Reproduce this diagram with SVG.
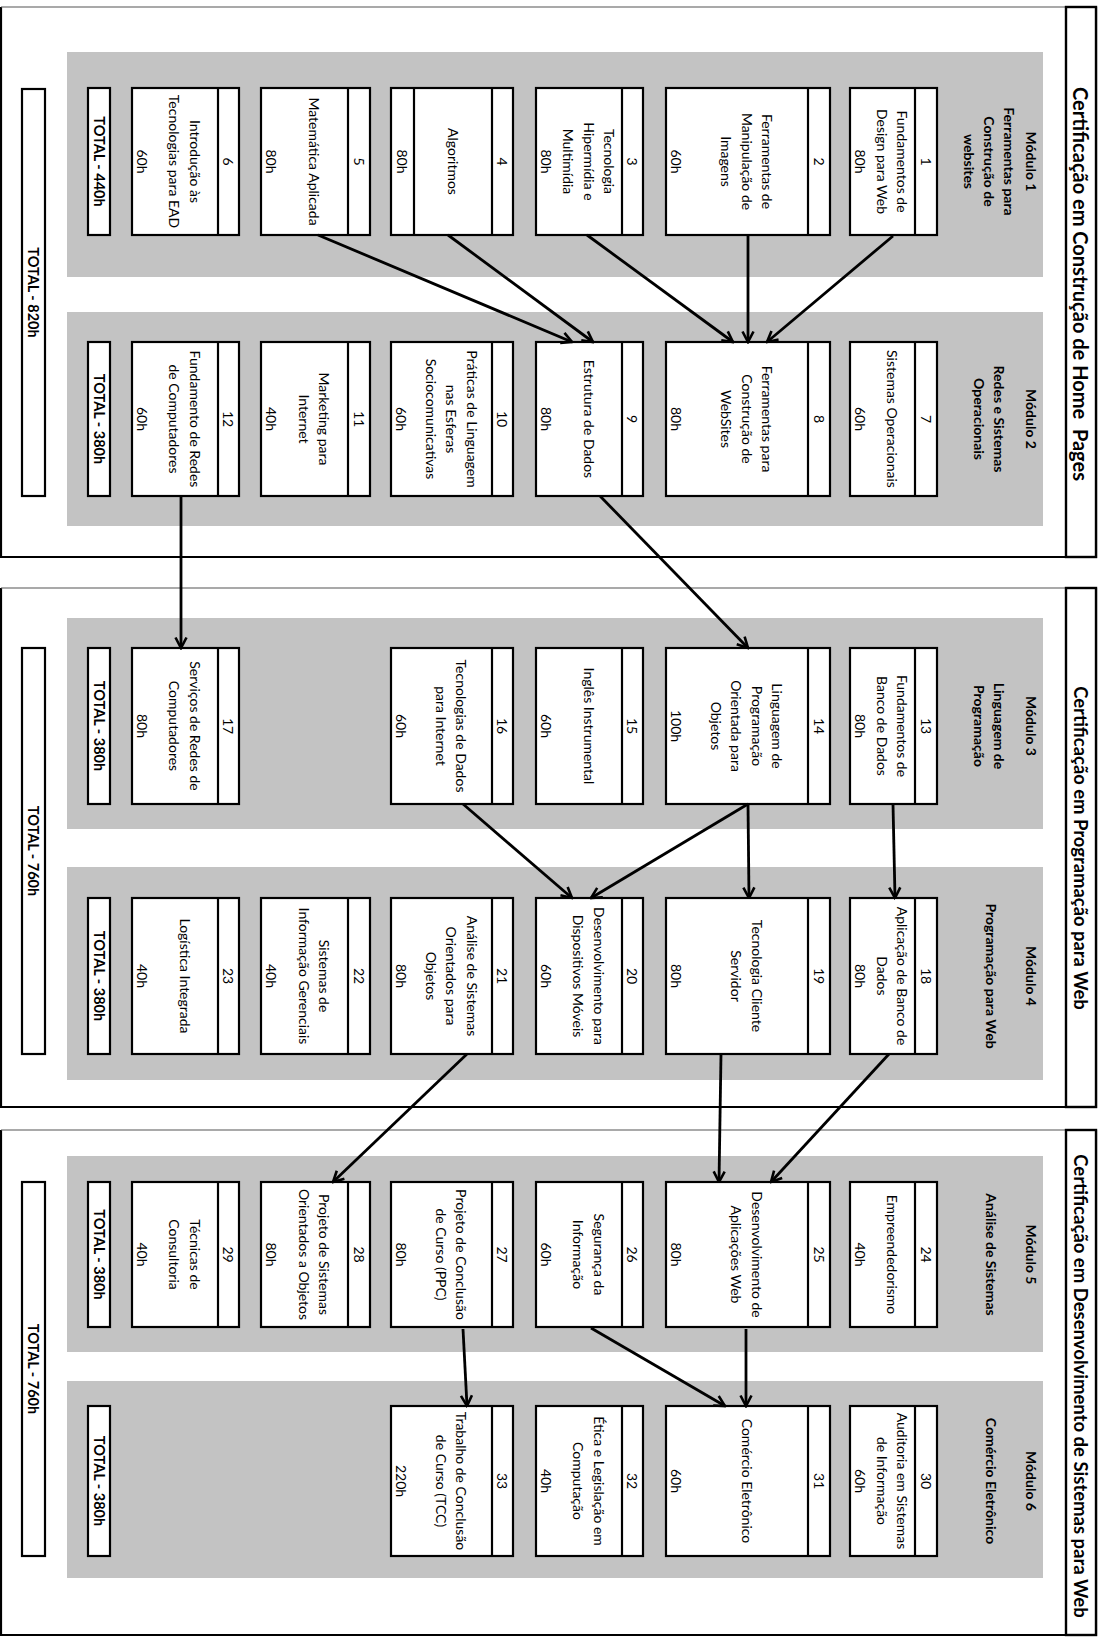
<svg xmlns="http://www.w3.org/2000/svg" width="1104" height="1643" viewBox="0 0 1104 1643">
<defs>
<style>
.band{fill:#c3c3c3}
.frame{fill:none;stroke:#000;stroke-width:2.2}
.thin{fill:none;stroke:#555;stroke-width:1.2}
.tbar{fill:#fff;stroke:#000;stroke-width:2.4}
.box{fill:#fff;stroke:#000;stroke-width:2.2}
.dv{stroke:#000;stroke-width:2.2}
text{font-family:Lato,"Liberation Sans",sans-serif;font-size:14px;fill:#000;text-anchor:middle;dominant-baseline:central}
.b{font-weight:bold;font-size:14px}
.ttl{font-size:20px;font-weight:bold}
.tot{font-size:14.5px;font-weight:bold}
.conn{fill:none;stroke:#000;stroke-width:2.8;marker-end:url(#ah)}
</style>
<marker id="ah" markerUnits="userSpaceOnUse" viewBox="0 0 14 14" refX="12.5" refY="7" markerWidth="14" markerHeight="14" orient="auto">
<path d="M2,1.5 L12.5,7 L2,12.5" fill="none" stroke="#000" stroke-width="2.6"/>
</marker>
</defs>
<rect width="1104" height="1643" fill="#fff"/>
<g transform="translate(1104,0) rotate(90)">
<!-- certification frames -->
<g id="cert1">
<path class="frame" d="M7,8 H557 V1103 H7"/><path class="thin" d="M7,8 V1103"/>
<rect class="tbar" x="7" y="8" width="550" height="30"/>
<text class="ttl" x="284" y="23" xml:space="preserve">Certificação em Construção de Home  Pages</text>
</g>
<g id="cert2">
<path class="frame" d="M588,8 H1107 V1103 H588"/><path class="thin" d="M588,8 V1103"/>
<rect class="tbar" x="588" y="8" width="519" height="30"/>
<text class="ttl" x="848" y="23" style="font-size:18.4px">Certificação em Programação para Web</text>
</g>
<g id="cert3">
<path class="frame" d="M1130,8 H1635 V1103 H1130"/><path class="thin" d="M1130,8 V1103"/>
<rect class="tbar" x="1130" y="8" width="505" height="30"/>
<text class="ttl" x="1386" y="23" style="font-size:18.5px">Certificação em Desenvolvimento de Sistemas para Web</text>
</g>
<!-- module bands -->
<g id="mod1"><rect class="band" x="52" y="61" width="225" height="976"/>
<text class="b" x="161.5" y="73">Módulo 1</text><text class="b" x="161.5" y="95">Ferramentas para</text><text class="b" x="161.5" y="115">Construção de</text><text class="b" x="161.5" y="135">websites</text></g>
<g id="mod2"><rect class="band" x="312" y="61" width="214" height="976"/>
<text class="b" x="419" y="73">Módulo 2</text><text class="b" x="419" y="105">Redes e Sistemas</text><text class="b" x="419" y="125">Operacionais</text></g>
<g id="mod3"><rect class="band" x="618" y="61" width="211" height="976"/>
<text class="b" x="726" y="73">Módulo 3</text><text class="b" x="726" y="105">Linguagem de</text><text class="b" x="726" y="125">Programação</text></g>
<g id="mod4"><rect class="band" x="867" y="61" width="213" height="976"/>
<text class="b" x="976" y="73">Módulo 4</text><text class="b" x="976" y="113">Programação para Web</text></g>
<g id="mod5"><rect class="band" x="1156" y="61" width="196" height="976"/>
<text class="b" x="1254.5" y="73">Módulo 5</text><text class="b" x="1254.5" y="113">Análise de Sistemas</text></g>
<g id="mod6"><rect class="band" x="1381" y="61" width="197" height="976"/>
<text class="b" x="1481" y="73">Módulo 6</text><text class="b" x="1481" y="113">Comércio Eletrônico</text></g>

<!-- Module 1 row u 88-235 -->
<g id="c1"><rect class="box" x="88" y="167" width="147" height="87"/><line class="dv" x1="88" y1="189" x2="235" y2="189"/>
<text x="161.5" y="178">1</text><text x="161.5" y="201.25">Fundamentos de</text><text x="161.5" y="221.75">Design para Web</text><text x="161.5" y="244">80h</text></g>
<g id="c2"><rect class="box" x="88" y="274" width="147" height="164"/><line class="dv" x1="88" y1="296" x2="235" y2="296"/>
<text x="161.5" y="285">2</text><text x="161.5" y="336.5">Ferramentas de</text><text x="161.5" y="357">Manipulação de</text><text x="161.5" y="377.5">Imagens</text><text x="161.5" y="428">60h</text></g>
<g id="c3"><rect class="box" x="88" y="461" width="147" height="107"/><line class="dv" x1="88" y1="482" x2="235" y2="482"/>
<text x="161.5" y="471.5">3</text><text x="161.5" y="494.5">Tecnologia</text><text x="161.5" y="515">Hipermídia e</text><text x="161.5" y="535.5">Multimídia</text><text x="161.5" y="558">80h</text></g>
<g id="c4"><rect class="box" x="88" y="591" width="147" height="122"/><line class="dv" x1="88" y1="612" x2="235" y2="612"/><line class="dv" x1="88" y1="690" x2="235" y2="690"/>
<text x="161.5" y="601.5">4</text><text x="161.5" y="651">Algoritmos</text><text x="161.5" y="701.5">80h</text></g>
<g id="c5"><rect class="box" x="88" y="734" width="147" height="109"/><line class="dv" x1="88" y1="756" x2="235" y2="756"/>
<text x="161.5" y="745">5</text><text x="161.5" y="789.5">Matemática Aplicada</text><text x="161.5" y="833">80h</text></g>
<g id="c6"><rect class="box" x="88" y="865" width="147" height="107"/><line class="dv" x1="88" y1="886" x2="235" y2="886"/>
<text x="161.5" y="875.5">6</text><text x="161.5" y="908.75">Introdução às</text><text x="161.5" y="929.25">Tecnologias para EAD</text><text x="161.5" y="962">60h</text></g>
<g id="t1"><rect class="box" x="88" y="994" width="147" height="22"/><text class="tot" x="161.5" y="1005">TOTAL - 440h</text></g>

<!-- Module 2 row u 342-496 -->
<g id="c7"><rect class="box" x="342" y="167" width="154" height="87"/><line class="dv" x1="342" y1="189" x2="496" y2="189"/>
<text x="419" y="178">7</text><text x="419" y="211.5">Sistemas Operacionais</text><text x="419" y="244">60h</text></g>
<g id="c8"><rect class="box" x="342" y="274" width="154" height="164"/><line class="dv" x1="342" y1="296" x2="496" y2="296"/>
<text x="419" y="285">8</text><text x="419" y="336.5">Ferramentas para</text><text x="419" y="357">Construção de</text><text x="419" y="377.5">WebSites</text><text x="419" y="428">80h</text></g>
<g id="c9"><rect class="box" x="342" y="461" width="154" height="107"/><line class="dv" x1="342" y1="482" x2="496" y2="482"/>
<text x="419" y="471.5">9</text><text x="419" y="515">Estrutura de Dados</text><text x="419" y="558">80h</text></g>
<g id="c10"><rect class="box" x="342" y="591" width="154" height="122"/><line class="dv" x1="342" y1="612" x2="496" y2="612"/>
<text x="419" y="601.5">10</text><text x="419" y="632">Práticas de Linguagem</text><text x="419" y="652.5">nas Esferas</text><text x="419" y="673">Sociocomunicativas</text><text x="419" y="703">60h</text></g>
<g id="c11"><rect class="box" x="342" y="734" width="154" height="109"/><line class="dv" x1="342" y1="756" x2="496" y2="756"/>
<text x="419" y="745">11</text><text x="419" y="779.25">Marketing para</text><text x="419" y="799.75">Internet</text><text x="419" y="833">40h</text></g>
<g id="c12"><rect class="box" x="342" y="865" width="154" height="107"/><line class="dv" x1="342" y1="886" x2="496" y2="886"/>
<text x="419" y="875.5">12</text><text x="419" y="908.75">Fundamento de Redes</text><text x="419" y="929.25">de Computadores</text><text x="419" y="962">60h</text></g>
<g id="t2"><rect class="box" x="342" y="994" width="154" height="22"/><text class="tot" x="419" y="1005">TOTAL - 380h</text></g>
<g id="g1"><rect class="box" x="89" y="1059" width="407" height="23"/><text class="tot" x="292.5" y="1070.5">TOTAL - 820h</text></g>

<!-- Module 3 row u 648-804 -->
<g id="c13"><rect class="box" x="648" y="167" width="156" height="87"/><line class="dv" x1="648" y1="189" x2="804" y2="189"/>
<text x="726" y="178">13</text><text x="726" y="201.25">Fundamentos de</text><text x="726" y="221.75">Banco de Dados</text><text x="726" y="244">80h</text></g>
<g id="c14"><rect class="box" x="648" y="274" width="156" height="164"/><line class="dv" x1="648" y1="296" x2="804" y2="296"/>
<text x="726" y="285">14</text><text x="726" y="326.25">Linguagem de</text><text x="726" y="346.75">Programação</text><text x="726" y="367.25">Orientada para</text><text x="726" y="387.75">Objetos</text><text x="726" y="428">100h</text></g>
<g id="c15"><rect class="box" x="648" y="461" width="156" height="107"/><line class="dv" x1="648" y1="482" x2="804" y2="482"/>
<text x="726" y="471.5">15</text><text x="726" y="515">Inglês Instrumental</text><text x="726" y="558">60h</text></g>
<g id="c16"><rect class="box" x="648" y="591" width="156" height="122"/><line class="dv" x1="648" y1="612" x2="804" y2="612"/>
<text x="726" y="601.5">16</text><text x="726" y="642.25">Tecnologias de Dados</text><text x="726" y="662.75">para Internet</text><text x="726" y="703">60h</text></g>
<g id="c17"><rect class="box" x="648" y="865" width="156" height="107"/><line class="dv" x1="648" y1="886" x2="804" y2="886"/>
<text x="726" y="875.5">17</text><text x="726" y="908.75">Serviços de Redes de</text><text x="726" y="929.25">Computadores</text><text x="726" y="962">80h</text></g>
<g id="t3"><rect class="box" x="648" y="994" width="156" height="22"/><text class="tot" x="726" y="1005">TOTAL - 380h</text></g>

<!-- Module 4 row u 898-1054 -->
<g id="c18"><rect class="box" x="898" y="167" width="156" height="87"/><line class="dv" x1="898" y1="189" x2="1054" y2="189"/>
<text x="976" y="178">18</text><text x="976" y="201.25">Aplicação de Banco de</text><text x="976" y="221.75">Dados</text><text x="976" y="244">80h</text></g>
<g id="c19"><rect class="box" x="898" y="274" width="156" height="164"/><line class="dv" x1="898" y1="296" x2="1054" y2="296"/>
<text x="976" y="285">19</text><text x="976" y="346.75">Tecnologia Cliente</text><text x="976" y="367.25">Servidor</text><text x="976" y="428">80h</text></g>
<g id="c20"><rect class="box" x="898" y="461" width="156" height="107"/><line class="dv" x1="898" y1="482" x2="1054" y2="482"/>
<text x="976" y="471.5">20</text><text x="976" y="504.75">Desenvolvimento para</text><text x="976" y="525.25">Dispositivos Móveis</text><text x="976" y="558">60h</text></g>
<g id="c21"><rect class="box" x="898" y="591" width="156" height="122"/><line class="dv" x1="898" y1="612" x2="1054" y2="612"/>
<text x="976" y="601.5">21</text><text x="976" y="632">Análise de Sistemas</text><text x="976" y="652.5">Orientados para</text><text x="976" y="673">Objetos</text><text x="976" y="703">80h</text></g>
<g id="c22"><rect class="box" x="898" y="734" width="156" height="109"/><line class="dv" x1="898" y1="756" x2="1054" y2="756"/>
<text x="976" y="745">22</text><text x="976" y="779.25">Sistemas de</text><text x="976" y="799.75">Informação Gerenciais</text><text x="976" y="833">40h</text></g>
<g id="c23"><rect class="box" x="898" y="865" width="156" height="107"/><line class="dv" x1="898" y1="886" x2="1054" y2="886"/>
<text x="976" y="875.5">23</text><text x="976" y="919">Logística Integrada</text><text x="976" y="962">40h</text></g>
<g id="t4"><rect class="box" x="898" y="994" width="156" height="22"/><text class="tot" x="976" y="1005">TOTAL - 380h</text></g>
<g id="g2"><rect class="box" x="648" y="1059" width="406" height="23"/><text class="tot" x="851" y="1070.5">TOTAL - 760h</text></g>

<!-- Module 5 row u 1182-1327 -->
<g id="c24"><rect class="box" x="1182" y="167" width="145" height="87"/><line class="dv" x1="1182" y1="189" x2="1327" y2="189"/>
<text x="1254.5" y="178">24</text><text x="1254.5" y="211.5">Empreendedorismo</text><text x="1254.5" y="244">40h</text></g>
<g id="c25"><rect class="box" x="1182" y="274" width="145" height="164"/><line class="dv" x1="1182" y1="296" x2="1327" y2="296"/>
<text x="1254.5" y="285">25</text><text x="1254.5" y="346.75">Desenvolvimento de</text><text x="1254.5" y="367.25">Aplicações Web</text><text x="1254.5" y="428">80h</text></g>
<g id="c26"><rect class="box" x="1182" y="461" width="145" height="107"/><line class="dv" x1="1182" y1="482" x2="1327" y2="482"/>
<text x="1254.5" y="471.5">26</text><text x="1254.5" y="504.75">Segurança da</text><text x="1254.5" y="525.25">Informação</text><text x="1254.5" y="558">60h</text></g>
<g id="c27"><rect class="box" x="1182" y="591" width="145" height="122"/><line class="dv" x1="1182" y1="612" x2="1327" y2="612"/>
<text x="1254.5" y="601.5">27</text><text x="1254.5" y="642.25">Projeto de Conclusão</text><text x="1254.5" y="662.75">de Curso (PPC)</text><text x="1254.5" y="703">80h</text></g>
<g id="c28"><rect class="box" x="1182" y="734" width="145" height="109"/><line class="dv" x1="1182" y1="756" x2="1327" y2="756"/>
<text x="1254.5" y="745">28</text><text x="1254.5" y="779.25">Projeto de Sistemas</text><text x="1254.5" y="799.75">Orientados a Objetos</text><text x="1254.5" y="833">80h</text></g>
<g id="c29"><rect class="box" x="1182" y="865" width="145" height="107"/><line class="dv" x1="1182" y1="886" x2="1327" y2="886"/>
<text x="1254.5" y="875.5">29</text><text x="1254.5" y="908.75">Técnicas de</text><text x="1254.5" y="929.25">Consultoria</text><text x="1254.5" y="962">40h</text></g>
<g id="t5"><rect class="box" x="1182" y="994" width="145" height="22"/><text class="tot" x="1254.5" y="1005">TOTAL - 380h</text></g>

<!-- Module 6 row u 1406-1556 -->
<g id="c30"><rect class="box" x="1406" y="167" width="150" height="87"/><line class="dv" x1="1406" y1="189" x2="1556" y2="189"/>
<text x="1481" y="178">30</text><text x="1481" y="201.25">Auditoria em Sistemas</text><text x="1481" y="221.75">de Informação</text><text x="1481" y="244">60h</text></g>
<g id="c31"><rect class="box" x="1406" y="274" width="150" height="164"/><line class="dv" x1="1406" y1="296" x2="1556" y2="296"/>
<text x="1481" y="285">31</text><text x="1481" y="357">Comércio Eletrônico</text><text x="1481" y="428">60h</text></g>
<g id="c32"><rect class="box" x="1406" y="461" width="150" height="107"/><line class="dv" x1="1406" y1="482" x2="1556" y2="482"/>
<text x="1481" y="471.5">32</text><text x="1481" y="504.75">Ética e Legislação em</text><text x="1481" y="525.25">Computação</text><text x="1481" y="558">40h</text></g>
<g id="c33"><rect class="box" x="1406" y="591" width="150" height="122"/><line class="dv" x1="1406" y1="612" x2="1556" y2="612"/>
<text x="1481" y="601.5">33</text><text x="1481" y="642.25">Trabalho de Conclusão</text><text x="1481" y="662.75">de Curso (TCC)</text><text x="1481" y="703">220h</text></g>
<g id="t6"><rect class="box" x="1406" y="994" width="150" height="22"/><text class="tot" x="1481" y="1005">TOTAL - 380h</text></g>
<g id="g3"><rect class="box" x="1182" y="1059" width="374" height="23"/><text class="tot" x="1369" y="1070.5">TOTAL - 760h</text></g>

<!-- connectors -->
<g id="connectors">
<path class="conn" d="M236,211 L342,337"/>
<path class="conn" d="M235,356 L342,356"/>
<path class="conn" d="M235,517 L342,371"/>
<path class="conn" d="M235,656 L342,511"/>
<path class="conn" d="M235,786 L342,532"/>
<path class="conn" d="M496,504 L648,356"/>
<path class="conn" d="M496,923 L648,923"/>
<path class="conn" d="M804,211 L898,209"/>
<path class="conn" d="M804,356 L898,355"/>
<path class="conn" d="M804,356 L898,513"/>
<path class="conn" d="M804,641 L898,532"/>
<path class="conn" d="M1054,215 L1182,333"/>
<path class="conn" d="M1054,383 L1182,385"/>
<path class="conn" d="M1054,637 L1182,771"/>
<path class="conn" d="M1329,358 L1406,358"/>
<path class="conn" d="M1328,513 L1406,379"/>
<path class="conn" d="M1329,641 L1406,637"/>
</g>
</g>
</svg>
